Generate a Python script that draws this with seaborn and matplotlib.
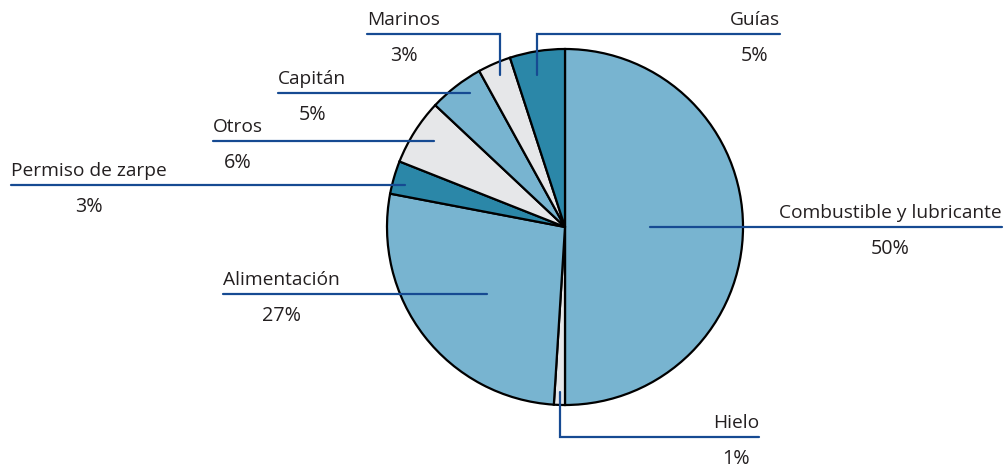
import numpy as np
import matplotlib.pyplot as plt
import seaborn as sns

# Data
categories = ["Combustible y lubricante", "Hielo", "Alimentación", "Permiso de zarpe",
              "Otros", "Capitán", "Marinos", "Guías"]
values = [50, 1, 27, 3, 6, 5, 3, 5]
pct_labels = ["50%", "1%", "27%", "3%", "6%", "5%", "3%", "5%"]

# Style
sns.set_theme(style="white")
plt.rcParams['font.family'] = ['Open Sans', 'DejaVu Sans']

light_blue = "#78b4d0"
light_gray = "#e6e7e9"
teal = "#2b87a8"
slice_colors = [light_blue, light_gray, light_blue, teal, light_gray, light_blue, light_gray, teal]
line_color = "#164a92"
text_color = "#231f20"

W, H = 1005, 468
fig = plt.figure(figsize=(W / 100, H / 100), dpi=100)
ax = fig.add_axes([0, 0, 1, 1])

cx, cy, R = 565, H - 227, 178
ax.pie(values, colors=slice_colors, startangle=90, counterclock=False,
       center=(cx, cy), radius=R,
       wedgeprops=dict(edgecolor="black", linewidth=1.6))
ax.set_xlim(0, W)
ax.set_ylim(0, H)
ax.set_aspect("equal")
ax.axis("off")

# Leader line layout: position within slice, anchor radius fraction,
# label end x, elbow y (pixel from top) or None
anchor_frac = [0.5, 0.47, 0.47, 0.36, 0.55, 0.64, 0.54, 0.42]
anchor_r = [0.48, 0.93, 0.58, 0.93, 0.88, 0.92, 0.93, 0.87]
label_x = [1002, 759, 223, 11, 213, 278, 367, 780]
elbow_y = [None, 437, None, None, None, None, 34, 34]

cum = np.cumsum([0] + values[:-1])
renderer = fig.canvas.get_renderer()
for i, name in enumerate(categories):
    ang = np.deg2rad(90 - 3.6 * (cum[i] + values[i] * anchor_frac[i]))
    axp = cx + anchor_r[i] * R * np.cos(ang)
    ayp = cy + anchor_r[i] * R * np.sin(ang)
    if elbow_y[i] is not None:
        ly = H - elbow_y[i]
        ax.plot([axp, axp, label_x[i]], [ayp, ly, ly], color=line_color, lw=1.6,
                solid_joinstyle="miter")
    else:
        ly = ayp
        ax.plot([axp, label_x[i]], [ly, ly], color=line_color, lw=1.6)
    ha = "right" if label_x[i] > axp else "left"
    t = ax.text(label_x[i], ly + 9, name, ha=ha, va="baseline",
                fontsize=13.8, color=text_color)
    bb = t.get_window_extent(renderer=renderer)
    xc = (bb.x0 + bb.x1) / 2
    ax.text(xc, ly - 27, pct_labels[i], ha="center", va="baseline",
            fontsize=14.2, color=text_color)

fig.savefig("out.png", dpi=100)
